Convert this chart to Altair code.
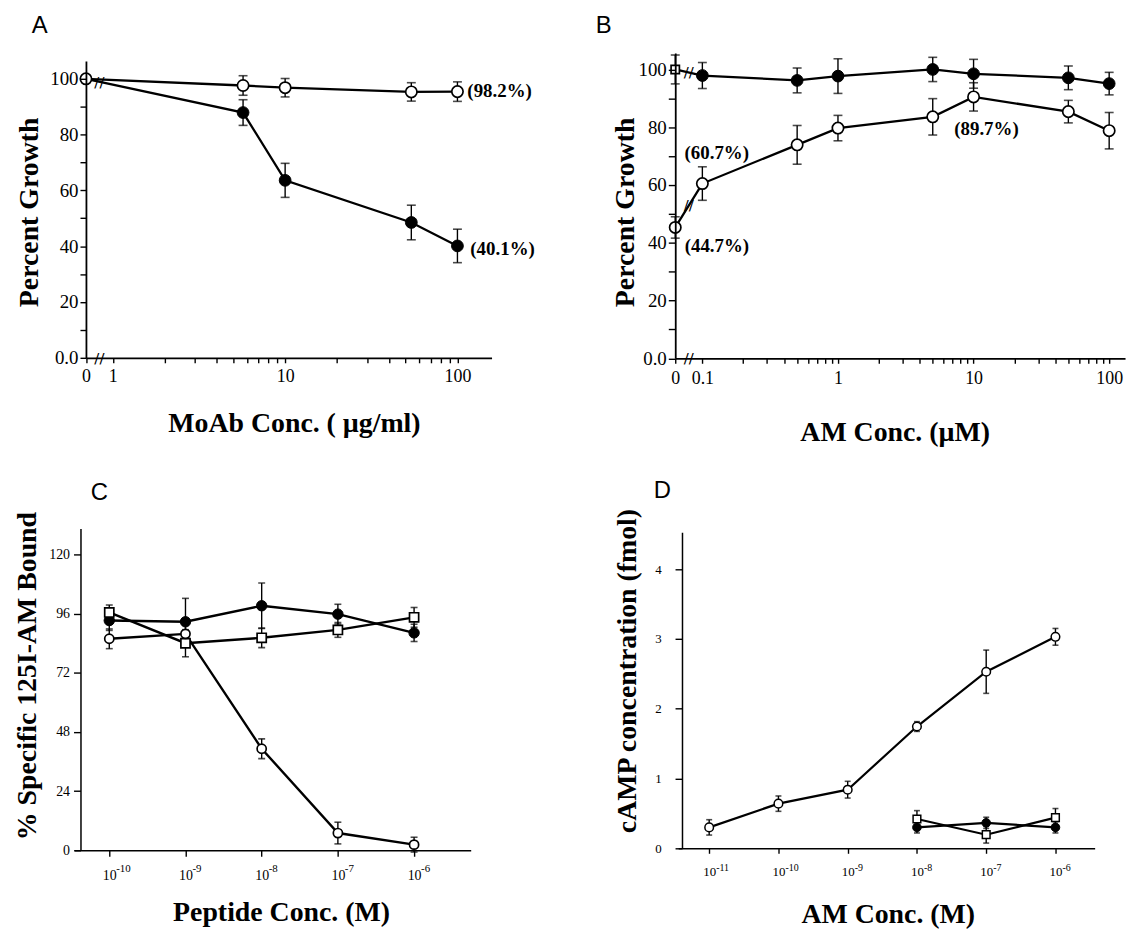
import numpy as np
import pandas as pd
import altair as alt

# ---------------- data ----------------
# Panel A : MoAb concentration (ug/ml) vs percent growth
A_CONC = [0, 5.7, 10, 54, 100]
A_OPEN = [100, 97.6, 96.8, 95.3, 95.4]
A_OPEN_ERR = [0, 3.5, 3.3, 3.3, 3.5]
A_FILLED = [100, 87.9, 63.6, 48.5, 40.1]
A_FILLED_ERR = [0, 4.6, 6.1, 6.2, 6.0]
A_NOTES = ["(98.2%)", "(40.1%)"]

# Panel B : AM concentration (uM) vs percent growth
B_CONC = [0, 0.1, 0.5, 1, 5, 10, 50, 100]
B_OPEN = [45.3, 60.5, 73.9, 79.7, 83.6, 90.5, 85.4, 78.8]
B_OPEN_ERR = [3.7, 5.8, 6.7, 4.4, 6.3, 4.9, 3.9, 6.3]
B_FILLED = [100, 97.9, 96.2, 97.7, 100.0, 98.5, 97.1, 95.1]
B_FILLED_ERR = [5.0, 4.5, 4.3, 6.0, 4.2, 5.0, 4.1, 3.9]
B_NOTES = ["(44.7%)", "(60.7%)", "(89.7%)"]

# Panel C : peptide concentration (10^x M) vs % specific binding
C_EXP = [-10, -9, -8, -7, -6]
C_FILLED = [93.2, 92.7, 99.2, 95.8, 88.2]
C_FILLED_ERR = [4, 9.5, 9.2, 4, 3.5]
C_SQUARE = [96.5, 84.0, 86.2, 89.4, 94.5]
C_SQUARE_ERR = [3, 5.5, 4, 3, 4]
C_OPEN = [85.8, 87.8, 41.2, 7.0, 2.3]
C_OPEN_ERR = [4, 5, 4, 4.4, 3]

# Panel D : AM concentration (10^x M) vs cAMP (fmol)
D_EXP_OPEN = [-11, -10, -9, -8, -7, -6]
D_OPEN = [0.30, 0.64, 0.84, 1.745, 2.53, 3.03]
D_OPEN_ERR = [0.11, 0.11, 0.12, 0.07, 0.31, 0.12]
D_EXP_CTRL = [-8, -7, -6]
D_SQUARE = [0.42, 0.195, 0.44]
D_SQUARE_ERR = [0.12, 0.12, 0.13]
D_FILLED = [0.30, 0.365, 0.30]
D_FILLED_ERR = [0.08, 0.08, 0.08]

# ---------------- styling / layout ----------------
SERIF = "Liberation Serif"
SANS = "Liberation Sans"
W, H = 1130, 928
M = 8  # page margin

ZERO_A = -0.156   # axis slot used for concentration 0 (panel A, log10 units)
ZERO_B = -1.2     # same for panel B
BRK_A = ZERO_A / 2
BRK_B = (ZERO_B - 1) / 2


def log_pos(conc, zero):
    return [float(np.log10(c)) if c > 0 else zero for c in conc]


def series(pos, vals, errs, marker, name):
    df = pd.DataFrame({"pos": [float(p) for p in pos], "y": vals, "err": errs})
    df["lo"] = df["y"] - df["err"]
    df["hi"] = df["y"] + df["err"]
    df["marker"] = marker
    df["series"] = name
    return df


def log_ticks(zero, decades):
    vals = [zero]
    for d in decades:
        vals.append(float(d))
        if d != decades[-1]:
            vals += [float(d + np.log10(k)) for k in range(2, 10)]
    return vals


def axis(orient, at_px, values, title, tx, ty, expr=None, tick=6, pad=3, size=18, dw=1.8):
    # at_px: page position of the axis line (x for left axes, y for bottom axes)
    if orient == "left":
        offset = -(at_px - M)
        tx = tx - (at_px - M)
        ty = ty - M
    else:
        offset = (at_px - M) - H
        tx = tx - M
        ty = ty - at_px
    kw = dict(orient=orient, offset=offset, values=[float(v) for v in values],
              tickSize=tick, tickWidth=1.4, labelPadding=pad, labelFontSize=size,
              domainWidth=dw, title=title, titleX=tx, titleY=ty, zindex=1,
              titleAlign="center", titleBaseline="middle",
              titleAngle=270 if orient == "left" else 0)
    if expr:
        kw["labelExpr"] = expr
    return alt.Axis(**kw)


def panel(df, xs, ys, xax, yax, lw, cap, sizes, notes, breaks, exps=None,
          note_size=19, mstroke=1.7):
    X = lambda ax=None: alt.X("pos:Q", scale=xs, axis=ax)
    Y = lambda f="y", ax=None: alt.Y(f + ":Q", scale=ys, axis=ax)
    base = alt.Chart(df)
    layers = [base.mark_line(color="black", strokeWidth=lw).encode(
        x=X(xax), y=Y("y", yax), detail="series:N", order="pos:Q")]
    eb = base.transform_filter("datum.err > 0")
    layers.append(eb.mark_rule(color="black", strokeWidth=1.4).encode(x=X(), y=Y("lo"), y2="hi:Q"))
    for f in ("lo", "hi"):
        layers.append(eb.mark_tick(color="black", orient="horizontal", size=cap, thickness=1.6)
                      .encode(x=X(), y=Y(f)))
    layers.append(base.transform_filter("datum.marker == 'filled'").mark_point(
        shape="circle", filled=True, fill="black", stroke="black", strokeWidth=1,
        size=sizes[0], opacity=1).encode(x=X(), y=Y()))
    layers.append(base.transform_filter("datum.marker == 'square'").mark_point(
        shape="square", filled=True, fill="white", stroke="black", strokeWidth=mstroke,
        size=sizes[2], opacity=1).encode(x=X(), y=Y()))
    layers.append(base.transform_filter("datum.marker == 'open'").mark_point(
        shape="circle", filled=True, fill="white", stroke="black", strokeWidth=mstroke,
        size=sizes[1], opacity=1).encode(x=X(), y=Y()))
    for (px, py, txt, align, dx, dy) in notes:
        layers.append(alt.Chart(pd.DataFrame({"pos": [px], "y": [py], "t": [txt]})).mark_text(
            align=align, baseline="middle", dx=dx, dy=dy, font=SERIF, fontSize=note_size,
            fontWeight="bold", color="black").encode(x=X(), y=Y(), text="t:N"))
    if breaks:
        layers.append(alt.Chart(pd.DataFrame(breaks, columns=["pos", "y"])).mark_text(
            text="//", font="DejaVu Sans", fontSize=15, color="black",
            align="center", baseline="middle").encode(x=X(), y=Y()))
    if exps is not None:
        vals, dx, dy, fs = exps
        edf = pd.DataFrame({"pos": [float(v) for v in vals], "y": 0.0,
                            "t": [str(v) for v in vals]})
        layers.append(alt.Chart(edf).mark_text(
            align="left", baseline="middle", dx=dx, dy=dy, font=SERIF, fontSize=fs,
            color="black").encode(x=X(), y=Y(), text="t:N"))
    return layers


def sc(domain, rng_px):
    return alt.Scale(domain=domain, range=[r - M for r in rng_px], nice=False, zero=False)


LOG_LABEL = ("datum.value < {cut} ? '0' : (abs(datum.value - round(datum.value)) < 0.000001 "
             "? '' + pow(10, round(datum.value)) : '')")
PCT_LABEL = "datum.value == 0 ? '0.0' : (datum.value % 20 == 0 ? datum.label : '')"

# ---------------- panel A ----------------
posA = log_pos(A_CONC, ZERO_A)
dfA = pd.concat([
    series(posA, A_FILLED, A_FILLED_ERR, ["none"] + ["filled"] * 4, "filled"),
    series(posA, A_OPEN, A_OPEN_ERR, "open", "open"),
])
brkA_line = float(np.interp(BRK_A, posA[:2], A_FILLED[:2]))
pA = panel(
    dfA, sc([ZERO_A, 2.198], [86.5, 495]), sc([0, 106.4], [357, 58]),
    axis("bottom", 357, log_ticks(ZERO_A, [0, 1, 2]), "MoAb Conc. ( µg/ml)", 296, 423,
         expr=LOG_LABEL.format(cut=ZERO_A / 2), tick=5, pad=5, size=18),
    axis("left", 86.5, list(range(0, 101, 10)), "Percent Growth", 22, 210,
         expr=PCT_LABEL, tick=6, pad=2, size=19),
    2.3, 9, (140, 130, 70),
    [(posA[-1], A_OPEN[-1], A_NOTES[0], "left", 10, -1),
     (posA[-1], A_FILLED[-1], A_NOTES[1], "left", 13, 3)],
    [(BRK_A, 0.0), (BRK_A, brkA_line)],
)

# ---------------- panel B ----------------
posB = log_pos(B_CONC, ZERO_B)
dfB = pd.concat([
    series(posB, B_FILLED, B_FILLED_ERR, ["square"] + ["filled"] * 7, "filled"),
    series(posB, B_OPEN, B_OPEN_ERR, "open", "open"),
])
brkB_f = float(np.interp(BRK_B, posB[:2], B_FILLED[:2]))
brkB_o = float(np.interp(BRK_B, posB[:2], B_OPEN[:2]))
pB = panel(
    dfB, sc([ZERO_B, 2.117], [680, 1133]), sc([0, 105.7], [357.5, 50]),
    axis("bottom", 357.5, log_ticks(ZERO_B, [-1, 0, 1, 2]), "AM Conc. (µM)", 901, 432,
         expr=LOG_LABEL.format(cut=BRK_B), tick=5, pad=6, size=18),
    axis("left", 680, list(range(0, 101, 10)), "Percent Growth", 622, 210,
         expr=PCT_LABEL, tick=7, pad=2, size=19),
    2.3, 9, (140, 130, 70),
    [(posB[0], B_OPEN[0], B_NOTES[0], "center", 42, 19),
     (posB[1], B_OPEN[1], B_NOTES[1], "center", 14.5, -31),
     (posB[5], B_OPEN[5], B_NOTES[2], "center", 13, 32)],
    [(BRK_B, 0.0), (BRK_B, brkB_f), (BRK_B, brkB_o)],
)

# ---------------- panel C ----------------
dfC = pd.concat([
    series(C_EXP, C_FILLED, C_FILLED_ERR, "filled", "filled"),
    series(C_EXP, C_SQUARE, C_SQUARE_ERR, "square", "square"),
    series(C_EXP, C_OPEN, C_OPEN_ERR, "open", "open"),
])
pC = panel(
    dfC, sc([-10.456, -5.257], [75, 474]), sc([0, 130.5], [853, 529]),
    axis("bottom", 853, C_EXP, "Peptide Conc. (M)", 283, 916, expr="'10'",
         tick=6, pad=12, size=14, dw=1.5),
    axis("left", 81, [0, 24, 48, 72, 96, 120], "% Specific 125I-AM Bound", 20, 677,
         tick=7, pad=4, size=14, dw=1.5),
    2.4, 7, (110, 85, 85), [], [], exps=(C_EXP, 7, 19, 11),
)

# ---------------- panel D ----------------
dfD = pd.concat([
    series(D_EXP_OPEN, D_OPEN, D_OPEN_ERR, "open", "open"),
    series(D_EXP_CTRL, D_SQUARE, D_SQUARE_ERR, "square", "square"),
    series(D_EXP_CTRL, D_FILLED, D_FILLED_ERR, "filled", "filled"),
])
pD = panel(
    dfD, sc([-11.447, -5.434], [683, 1102.4]), sc([0, 4.528], [851, 532.7]),
    axis("bottom", 851, D_EXP_OPEN, "AM Conc. (M)", 894, 918, expr="'10'",
         tick=5, pad=12, size=13, dw=1.5),
    axis("left", 686.8, [0, 1, 2, 3, 4], "cAMP concentration (fmol)", 624, 672,
         tick=7, pad=14, size=13, dw=1.5),
    2.2, 6, (75, 75, 60), [], [], exps=(D_EXP_OPEN, 7, 20, 10), mstroke=1.5,
)

# ---------------- panel letters ----------------
letters = []
for txt, lx, ly in [("A", 40, 23), ("B", 608, 23), ("C", 100, 493), ("D", 667, 491)]:
    letters.append(alt.Chart(pd.DataFrame({"t": [txt]})).mark_text(
        font=SANS, fontSize=24, color="black", align="center", baseline="middle").encode(
        x=alt.value(lx - M), y=alt.value(ly - M), text="t:N"))

chart = (
    alt.layer(*pA, *pB, *pC, *pD, *letters)
    .resolve_scale(x="independent", y="independent")
    .properties(width=W, height=H, autosize=alt.AutoSizeParams(type="none"), padding=0,
                background="white")
    .configure_view(stroke=None)
    .configure_axis(labelFont=SERIF, titleFont=SERIF, titleFontWeight="bold", titleFontSize=28,
                    labelColor="black", titleColor="black", tickColor="black",
                    domainColor="black", grid=False, labelFlush=False, labelOverlap=False)
)

chart.save("out.html", embed_options={"renderer": "svg", "actions": False})
